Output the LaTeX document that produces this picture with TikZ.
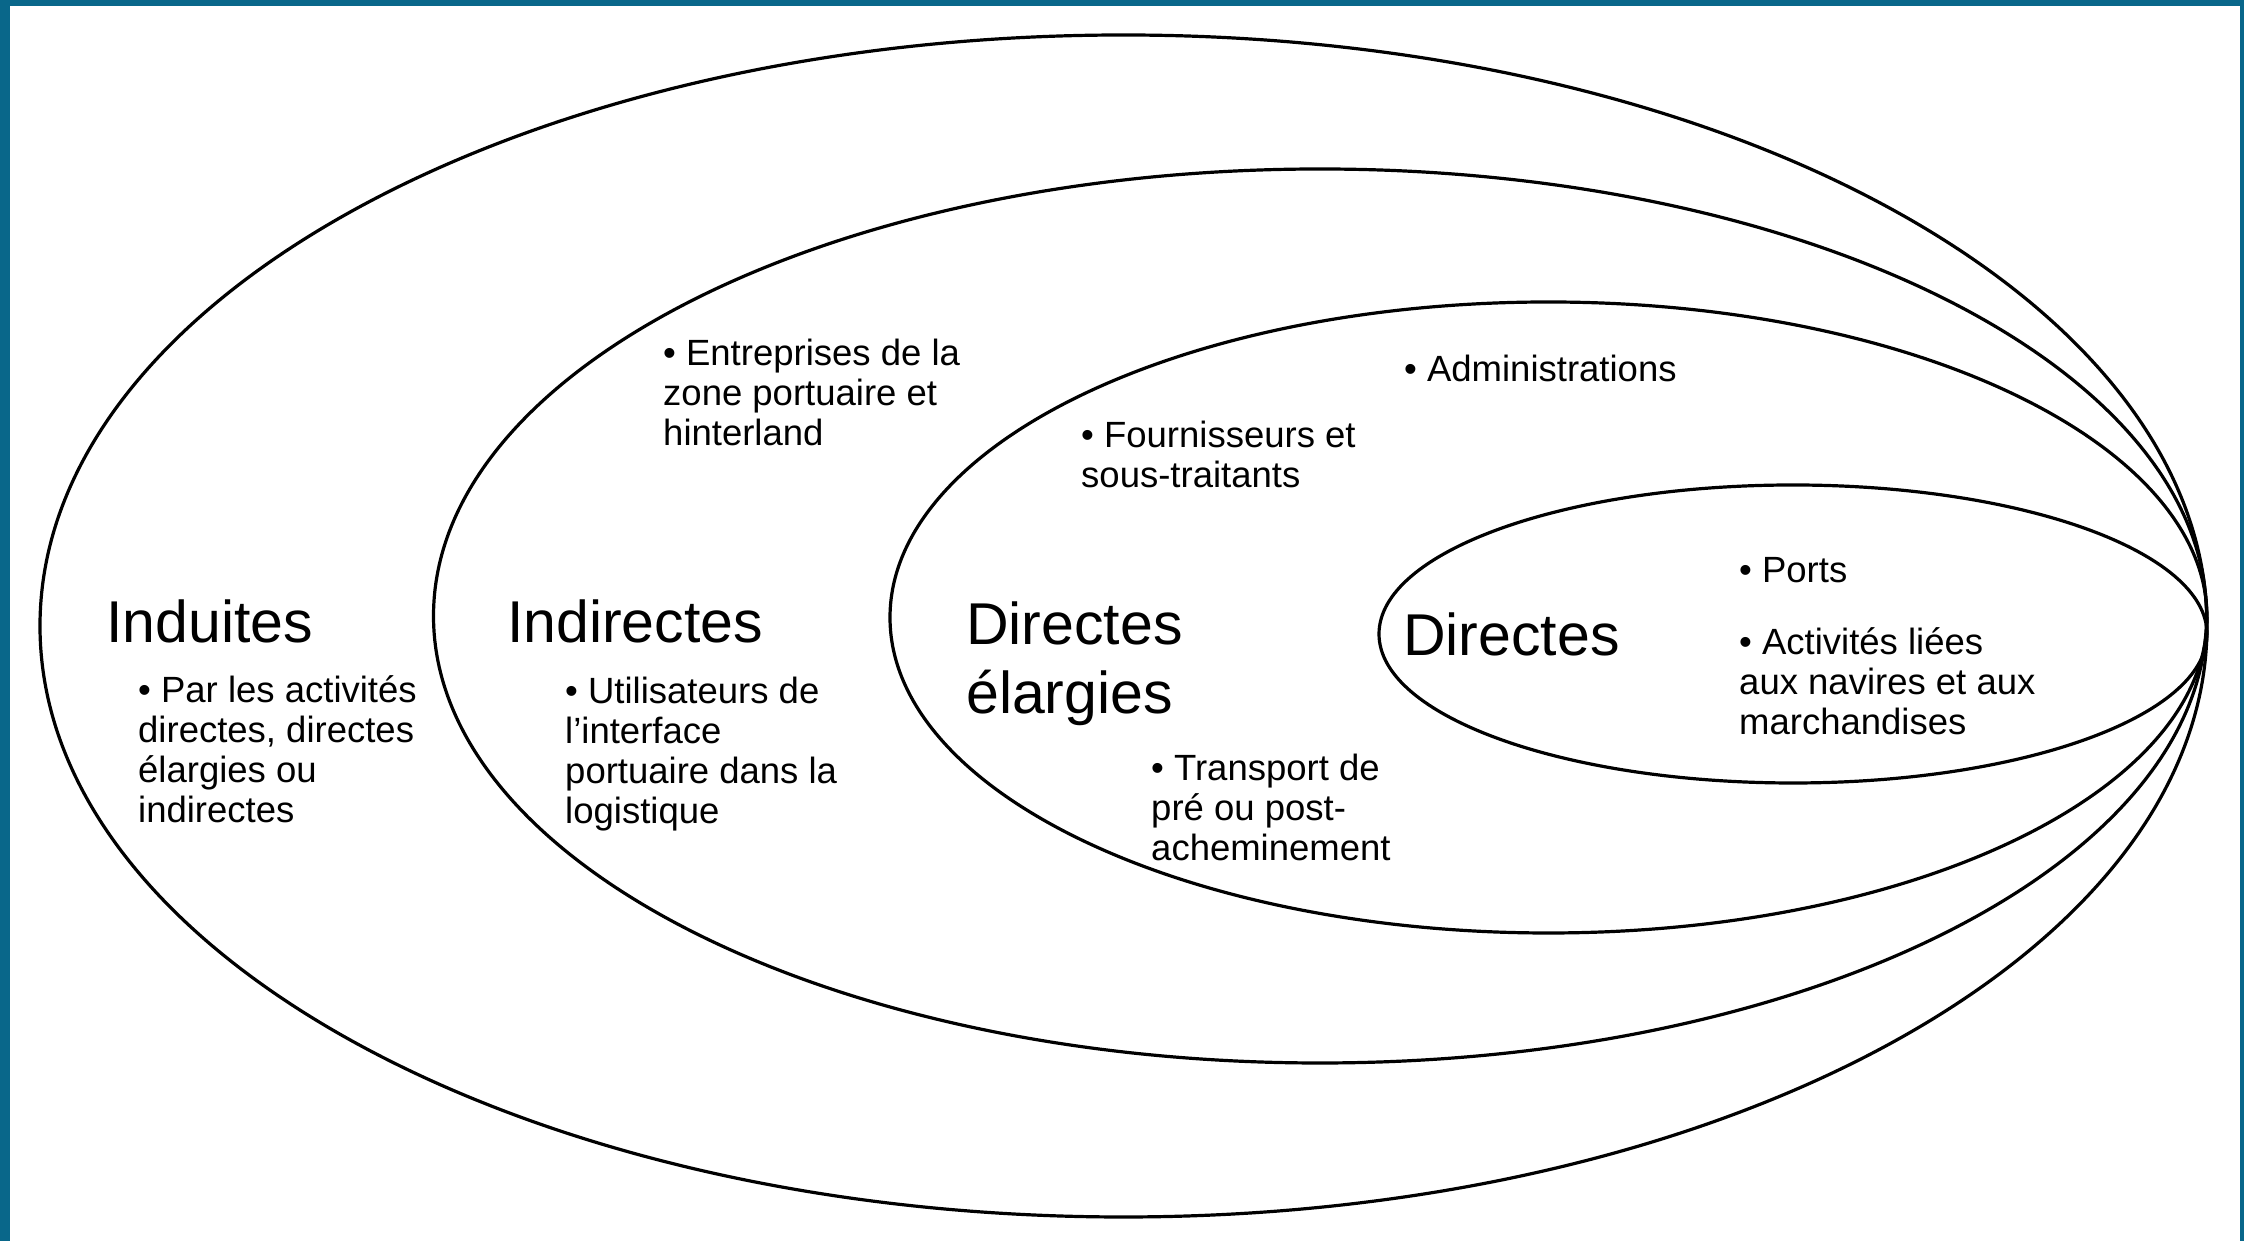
\documentclass[tikz,border=0pt]{standalone}
\usepackage{fontspec}
\setmainfont{Liberation Sans}
\definecolor{frameblue}{RGB}{9,103,138}
\tikzset{
  zone/.style={line width=3.2pt},
  head/.style={anchor=base west, inner sep=0pt, align=left, font=\fontsize{59}{69}\selectfont},
  note/.style={anchor=base west, inner sep=0pt, align=left, font=\fontsize{36.5}{40}\selectfont},
}
\begin{document}
\begin{tikzpicture}[x=1pt,y=1pt]
  \useasboundingbox (0,0) rectangle (2244,1241);
  \fill[frameblue] (0,0) rectangle (2244,1241);
  \fill[white] (10,0) rectangle (2240,1235);
  % nested zones, all touching on the right
  \draw[zone] (1123.5,615) ellipse [x radius=1083.5, y radius=591];
  \draw[zone] (1320,625) ellipse [x radius=886.5, y radius=447];
  \draw[zone] (1548.5,623.5) ellipse [x radius=658.5, y radius=315.5];
  \draw[zone] (1793,607) ellipse [x radius=414, y radius=149];
  % induites (multi-line nodes sit on their last baseline)
  \node[head] (induites) at (106,598) {Induites};
  \node[note] (induitesnote) at (138,418) {• Par les activités\\directes, directes\\élargies ou\\indirectes};
  % indirectes
  \node[head] (indirectes) at (507,598) {Indirectes};
  \node[note] (utilisateurs) at (565,417) {• Utilisateurs de\\l’interface\\portuaire dans la\\logistique};
  \node[note] (entreprises) at (663,795) {• Entreprises de la\\zone portuaire et\\hinterland};
  % directes elargies
  \node[head] (elargies) at (966,527) {Directes\\élargies};
  \node[note] (fournisseurs) at (1081,753) {• Fournisseurs et\\sous-traitants};
  \node[note] (administrations) at (1404,859) {• Administrations};
  \node[note] (transport) at (1151,380) {• Transport de\\pré ou post-\\acheminement};
  % directes
  \node[head] (directes) at (1403,585) {Directes};
  \node[note] (ports) at (1739,658) {• Ports};
  \node[note] (activites) at (1739,506) {• Activités liées\\aux navires et aux\\marchandises};
\end{tikzpicture}
\end{document}
